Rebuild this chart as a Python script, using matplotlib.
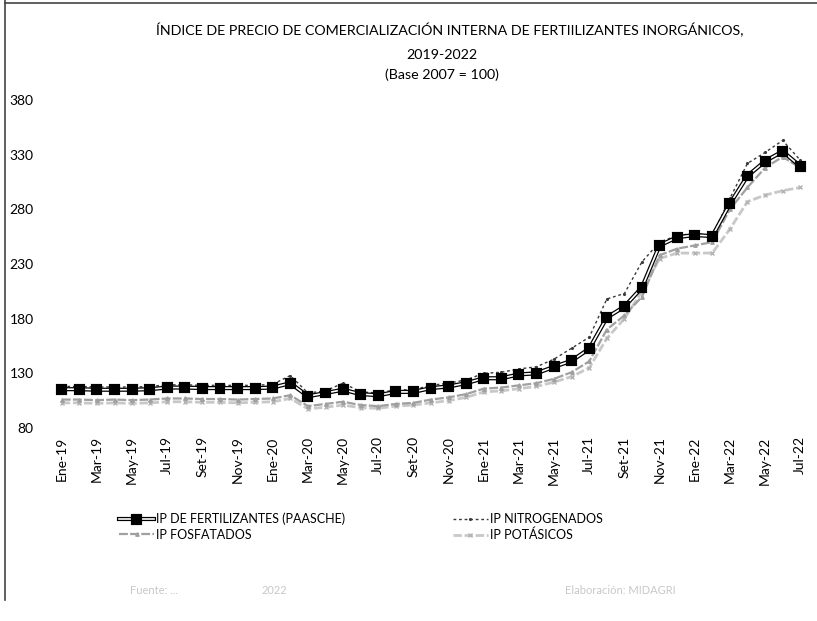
# -*- coding: utf-8 -*-
"""Indice de precio de fertilizantes inorganicos 2019-2022 (recreacion)."""

import matplotlib
matplotlib.use('Agg')
import matplotlib.pyplot as plt
from matplotlib.lines import Line2D
import matplotlib.patheffects as pe

# %% Datos

meses = ['Ene', 'Feb', 'Mar', 'Abr', 'May', 'Jun',
         'Jul', 'Ago', 'Set', 'Oct', 'Nov', 'Dic']
periodos = [m + '-' + a for a in ['19', '20', '21', '22'] for m in meses][:43]

paasche = [115.5, 115.5, 115, 115, 115, 115.5, 117, 117, 116.5, 116.5, 116.5, 116.5,
           117, 121, 109, 112, 115, 111, 110, 113, 113, 116.5, 118, 121,
           125.5, 125.5, 129, 130, 136, 141.5, 152.5, 181, 191, 208.5, 247, 254.5,
           256.5, 255.5, 285, 310.5, 324, 333, 319.5]
nitrogenados = [118, 118, 117.5, 117.5, 117.5, 118, 119.5, 119.5, 119, 119, 119, 119,
                120, 128, 112, 114, 121, 113, 112, 115, 115, 119, 121, 124,
                130, 131, 134, 136, 143, 153, 163, 198, 203, 232, 250, 256,
                258, 256, 290, 322, 332, 343, 325]
fosfatados = [106, 106, 105.5, 106, 105.5, 106, 107, 107, 106.5, 106.5, 106, 106.5,
              107, 110, 100, 102, 104, 101, 100, 102, 103, 106, 108, 111,
              116, 117, 119, 121, 125, 131, 141, 170, 183, 200, 238, 244,
              247, 250, 280, 300, 318, 328, 318]
potasicos = [103, 103, 102.5, 103, 102.5, 103, 104, 104, 103.5, 103.5, 103, 103.5,
             104, 107, 97.5, 99, 101, 98.5, 98, 100, 101, 103, 105, 108,
             113, 114, 116, 118, 122, 127, 135, 162, 180, 205, 235, 240,
             240, 240, 262, 287, 293, 297, 300]

y_ticks = [80, 130, 180, 230, 280, 330, 380]

# %% Figura

plt.rcParams['font.family'] = ['Lato', 'DejaVu Sans']

fig = plt.figure(figsize=(8.17, 6.21), dpi=100)
ax = fig.add_axes([53 / 817, 1 - 428 / 621, (809 - 53) / 817, (428 - 100) / 621])

x = list(range(len(periodos)))

# IP POTASICOS
ax.plot(x, potasicos, color='#c8c8c8', lw=2.0, ls=(0, (3, 1)),
        marker='x', ms=2.5, mec='#b4b4b4', zorder=2)
# IP FOSFATADOS
ax.plot(x, fosfatados, color='#a0a0a0', lw=1.6, ls=(0, (4, 1)),
        marker='^', ms=2.5, mfc='#a0a0a0', mec='#a0a0a0', zorder=3)
# IP NITROGENADOS
ax.plot(x, nitrogenados, color='#3a3a3a', lw=1.0, ls=(0, (2, 2)),
        marker='.', ms=2.5, zorder=4)
# IP DE FERTILIZANTES (PAASCHE): linea blanca con borde negro
ax.plot(x, paasche, color='white', lw=1.2, marker='s', ms=5,
        mfc='black', mec='black', zorder=5,
        path_effects=[pe.Stroke(linewidth=3.0, foreground='black'), pe.Normal()])

ax.set_xlim(-0.5, len(periodos) - 0.5)
ax.set_ylim(80, 380)
ax.set_yticks(y_ticks)
ax.set_xticks(x[::2])
ax.set_xticklabels(periodos[::2], rotation=90, fontsize=10)
ax.tick_params(axis='both', length=0, labelsize=10)
ax.tick_params(axis='y', pad=14)
ax.tick_params(axis='x', pad=6)
for s in ax.spines.values():
    s.set_visible(False)

# Titulo
fig.text(450 / 817, 1 - 30 / 621, 'ÍNDICE DE PRECIO DE COMERCIALIZACIÓN INTERNA DE FERTIILIZANTES INORGÁNICOS,',
         ha='center', va='center', fontsize=10.3)
fig.text(442 / 817, 1 - 55 / 621, '2019-2022', ha='center', va='center', fontsize=10.3)
fig.text(442 / 817, 1 - 75 / 621, '(Base 2007 = 100)', ha='center', va='center', fontsize=10.3)

# Leyenda
h_paasche = Line2D([], [], color='white', lw=1.2, marker='s', ms=5, mfc='black', mec='black',
                   path_effects=[pe.Stroke(linewidth=3.0, foreground='black'), pe.Normal()])
h_nitro = Line2D([], [], color='#3a3a3a', lw=1.0, ls=(0, (2, 2)), marker='.', ms=2.5)
h_fosfa = Line2D([], [], color='#a0a0a0', lw=1.6, ls=(0, (4, 1)), marker='^', ms=2.5,
                 mfc='#a0a0a0', mec='#a0a0a0')
h_pota = Line2D([], [], color='#c8c8c8', lw=2.0, ls=(0, (3, 1)), marker='x', ms=2.5, mec='#b4b4b4')
fig.legend([h_paasche, h_fosfa, h_nitro, h_pota],
           ['IP DE FERTILIZANTES (PAASCHE)', 'IP FOSFATADOS', 'IP NITROGENADOS', 'IP POTÁSICOS'],
           loc='center left', bbox_to_anchor=(108 / 817, 1 - 527 / 621), ncol=2,
           frameon=False, fontsize=9, handlelength=2.8, handletextpad=0.15,
           columnspacing=8.6, labelspacing=0.25)

# Pie (texto muy tenue en el original)
fig.text(130 / 817, 1 - 590 / 621, 'Fuente: ...', color='#c8c8c8', fontsize=8, va='center')
fig.text(262 / 817, 1 - 590 / 621, '2022', color='#c8c8c8', fontsize=8, va='center')
fig.text(565 / 817, 1 - 590 / 621, 'Elaboración: MIDAGRI', color='#c8c8c8', fontsize=8, va='center')

# Marco
fig.add_artist(Line2D([5 / 817, 5 / 817], [1 - 600 / 621, 1], color='#444444', lw=1.2))
fig.add_artist(Line2D([5 / 817, 1], [1 - 3 / 621, 1 - 3 / 621], color='#444444', lw=1.2))

fig.savefig('out.png', dpi=100)
